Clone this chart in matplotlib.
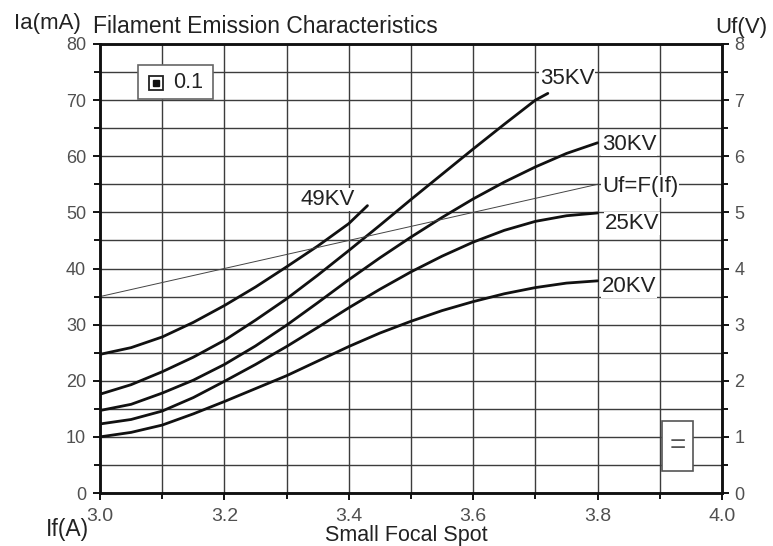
import matplotlib
matplotlib.use("Agg")
import matplotlib.pyplot as plt
from matplotlib.patches import Rectangle
from matplotlib.ticker import MultipleLocator

plt.rcParams['font.family'] = ['Liberation Sans', 'DejaVu Sans']

# ---- data ----
x_20 = [3.0, 3.05, 3.1, 3.15, 3.2, 3.25, 3.3, 3.35, 3.4, 3.45, 3.5, 3.55, 3.6, 3.65, 3.7, 3.75, 3.8]
ia_20 = [10.0, 10.8, 12.1, 14.1, 16.3, 18.6, 20.9, 23.5, 26.1, 28.5, 30.6, 32.5, 34.1, 35.5, 36.6, 37.4, 37.8]
x_25 = x_20
ia_25 = [12.3, 13.1, 14.6, 17.0, 19.9, 22.9, 26.1, 29.5, 33.0, 36.3, 39.4, 42.2, 44.7, 46.8, 48.4, 49.4, 49.9]
x_30 = x_20
ia_30 = [14.7, 15.8, 17.8, 20.1, 22.9, 26.2, 29.9, 33.9, 38.0, 41.9, 45.6, 49.1, 52.4, 55.4, 58.1, 60.5, 62.4]
x_35 = [3.0, 3.05, 3.1, 3.15, 3.2, 3.25, 3.3, 3.35, 3.4, 3.45, 3.5, 3.55, 3.6, 3.65, 3.7, 3.72]
ia_35 = [17.6, 19.3, 21.6, 24.2, 27.2, 30.8, 34.6, 38.8, 43.2, 47.7, 52.3, 56.8, 61.3, 65.7, 70.0, 71.2]
x_49 = [3.0, 3.05, 3.1, 3.15, 3.2, 3.25, 3.3, 3.35, 3.4, 3.43]
ia_49 = [24.7, 25.9, 27.8, 30.4, 33.4, 36.7, 40.3, 44.0, 48.0, 51.2]
x_uf = [3.0, 3.8]
uf = [3.5, 5.5]

series_labels = ["20KV", "25KV", "30KV", "35KV", "49KV"]
x_ticks = [3.0, 3.2, 3.4, 3.6, 3.8, 4.0]
x_ticklabels = ["3.0", "3.2", "3.4", "3.6", "3.8", "4.0"]

W, H = 773, 546
AX_L, AX_T, AX_W, AX_H = 100, 44, 622, 449


def fx(px):
    return px / W


def fy(py):
    return 1 - py / H


def axx(px):
    return (px - AX_L) / AX_W


def axy(py):
    return (AX_T + AX_H - py) / AX_H


# ---- figure ----
fig = plt.figure(figsize=(W / 100, H / 100), dpi=100)
ax = fig.add_axes([fx(AX_L), fy(AX_T + AX_H), AX_W / W, AX_H / H])
ax2 = ax.twinx()

grid_c = '#3c3c3c'
ax.set_xlim(3.0, 4.0)
ax.set_ylim(0, 80)
ax2.set_ylim(0, 8)

ax.xaxis.set_minor_locator(MultipleLocator(0.1))
ax.yaxis.set_major_locator(MultipleLocator(10))
ax.yaxis.set_minor_locator(MultipleLocator(5))
ax2.yaxis.set_major_locator(MultipleLocator(1))
ax2.yaxis.set_minor_locator(MultipleLocator(0.5))
ax.set_xticks(x_ticks)
ax.set_xticklabels(x_ticklabels)

ax.grid(True, which='both', color=grid_c, lw=1.0)
ax.set_axisbelow(True)

tick_c = '#505050'
ax.tick_params(axis='both', which='major', direction='out', length=5, width=1.4,
               labelsize=13, labelcolor=tick_c, color='#111111', pad=5)
ax.tick_params(axis='both', which='minor', direction='out', length=4.5, width=1.4, color='#111111')
ax.tick_params(axis='x', which='major', labelsize=14, pad=6)
ax2.tick_params(axis='y', which='major', direction='out', length=5, width=1.4,
                labelsize=13, labelcolor=tick_c, color='#111111', pad=4)
ax2.tick_params(axis='y', which='minor', direction='out', length=4, width=1.4, color='#111111')

for a in (ax, ax2):
    for s in a.spines.values():
        s.set_linewidth(1.8)
        s.set_color('#111111')

lc = '#111111'
lw = 2.0
for xs, ys in ((x_20, ia_20), (x_25, ia_25), (x_30, ia_30), (x_35, ia_35), (x_49, ia_49)):
    ax.plot(xs, ys, color=lc, lw=lw, solid_capstyle='round', solid_joinstyle='round')
ax2.plot(x_uf, uf, color='#444444', lw=0.7)

txt_c = '#222222'
lab_kw = dict(fontsize=16, color=txt_c, va='center', ha='left',
              bbox=dict(facecolor='white', edgecolor='none', pad=0.5))
ax.text(3.807, 36.8, series_labels[0], **lab_kw)
ax.text(3.811, 48.0, series_labels[1], **lab_kw)
ax.text(3.807, 62.1, series_labels[2], **lab_kw)
ax.text(3.707, 73.8, series_labels[3], **lab_kw)
ax.text(3.323, 52.3, series_labels[4], **lab_kw)
ax2.text(3.807, 5.46, "Uf=F(If)", **lab_kw)

# small legend-like box "0.1"
ax.add_patch(Rectangle((axx(138), axy(99)), 75 / AX_W, 34 / AX_H,
                       transform=ax.transAxes, facecolor='white',
                       edgecolor='#666666', lw=1.2, zorder=5))
mk_x, mk_y = axx(156), axy(83)
ax.plot([mk_x], [mk_y], marker='s', ms=10.5, mfc='white', mec='#222222', mew=1.3,
        transform=ax.transAxes, zorder=6)
ax.plot([mk_x], [mk_y], marker='s', ms=4.5, mfc='#111111', mec='#111111',
        transform=ax.transAxes, zorder=7)
ax.text(axx(173), mk_y, "0.1", transform=ax.transAxes, fontsize=15.5, color=txt_c,
        va='center', ha='left', zorder=7)

# "=" box
ax.add_patch(Rectangle((axx(662), axy(471)), 31 / AX_W, 50 / AX_H,
                       transform=ax.transAxes, facecolor='white', edgecolor='#555555',
                       lw=1.2, zorder=5))
ax.text(axx(677.5), axy(446), "=", transform=ax.transAxes, fontsize=20,
        color='#555555', va='center', ha='center', zorder=6)

# axis labels / titles
fig.text(fx(47), fy(29), "Ia(mA)", fontsize=16, color=txt_c, ha='center', va='baseline')
fig.text(fx(93), fy(33), "Filament Emission Characteristics", fontsize=16.5,
         color=txt_c, ha='left', va='baseline')
fig.text(fx(741), fy(33), "Uf(V)", fontsize=16, color=txt_c, ha='center', va='baseline')
fig.text(fx(46), fy(536), "If(A)", fontsize=16.5, color=txt_c, ha='left', va='baseline')
fig.text(fx(406), fy(541), "Small Focal Spot", fontsize=15.5, color=txt_c, ha='center', va='baseline')

fig.savefig("out.png", dpi=100)
